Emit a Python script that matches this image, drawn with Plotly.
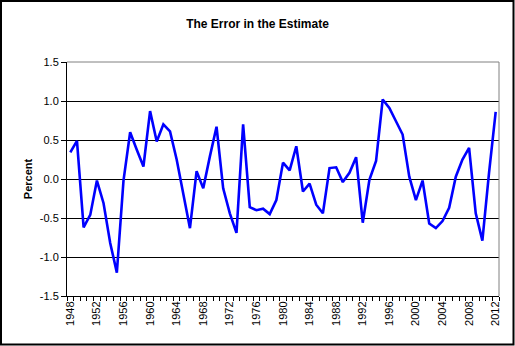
import plotly.graph_objects as go

years = list(range(1948, 2013))
values = [0.34, 0.49, -0.62, -0.46, -0.02, -0.31, -0.82, -1.20, -0.02, 0.60,
          0.375, 0.16, 0.87, 0.48, 0.70, 0.61, 0.25, -0.18, -0.63, 0.10,
          -0.12, 0.29, 0.67, -0.12, -0.44, -0.69, 0.70, -0.36, -0.40, -0.38,
          -0.45, -0.27, 0.21, 0.11, 0.42, -0.16, -0.06, -0.33, -0.44, 0.14,
          0.15, -0.04, 0.08, 0.28, -0.56, -0.01, 0.23, 1.02, 0.91, 0.74,
          0.57, 0.03, -0.27, -0.02, -0.57, -0.63, -0.54, -0.37, 0.03, 0.25,
          0.40, -0.44, -0.79, 0.08, 0.86]
label_years = list(range(1948, 2013, 4))
y_ticks = [-1.5, -1.0, -0.5, 0.0, 0.5, 1.0, 1.5]

W, H = 515, 346
L, R, T, B = 67, 16, 62, 50
pw, ph = W - L - R, H - T - B

def px(x):
    return (x - L) / pw

def py(y):
    return (H - B - y) / ph

font = "Liberation Sans, Arial, sans-serif"

fig = go.Figure()
fig.add_trace(go.Scatter(x=years, y=values, mode="lines",
                         line=dict(color="#0000FF", width=2.6),
                         hoverinfo="skip"))

fig.update_layout(
    width=W, height=H,
    margin=dict(l=L, r=R, t=T, b=B),
    paper_bgcolor="white", plot_bgcolor="white",
    showlegend=False,
    font=dict(family=font, size=11, color="black"),
    title=dict(text="<b>The Error in the Estimate</b>", x=0.5, xanchor="center",
               y=1 - 24 / H, yanchor="middle",
               font=dict(family=font, size=12, color="black")),
    xaxis=dict(range=[1947.5, 2012.5], tickvals=label_years,
               ticktext=[str(y) for y in label_years], tickangle=-90,
               ticks="", showgrid=False, zeroline=False,
               showline=True, linecolor="black", linewidth=1,
               tickfont=dict(family=font, size=11, color="black"),
               minor=dict(tick0=1947.5, dtick=1, ticks="outside",
                          ticklen=4, tickcolor="black", tickwidth=1,
                          showgrid=False)),
    yaxis=dict(range=[-1.5, 1.5], tickvals=y_ticks,
               ticktext=[f"{v:.1f}" for v in y_ticks],
               ticks="outside", ticklen=5, tickcolor="black",
               showgrid=True, gridcolor="black", gridwidth=1,
               zeroline=True, zerolinecolor="black", zerolinewidth=1,
               showline=True, linecolor="black", linewidth=1,
               tickfont=dict(family=font, size=11, color="black"),
               title=dict(text="<b>Percent</b>", standoff=4,
                          font=dict(family=font, size=11, color="black"))),
    shapes=[
        dict(type="line", xref="paper", yref="paper", x0=0, x1=1, y0=1, y1=1,
             line=dict(color="#808080", width=1), layer="above"),
        dict(type="line", xref="paper", yref="paper", x0=1, x1=1, y0=0, y1=1,
             line=dict(color="#808080", width=1), layer="above"),
        dict(type="rect", xref="paper", yref="paper",
             x0=px(1), x1=px(513.5), y0=py(1), y1=py(344.5),
             line=dict(color="black", width=2), fillcolor="rgba(0,0,0,0)",
             layer="above"),
    ],
)

fig.write_html("out.html")
